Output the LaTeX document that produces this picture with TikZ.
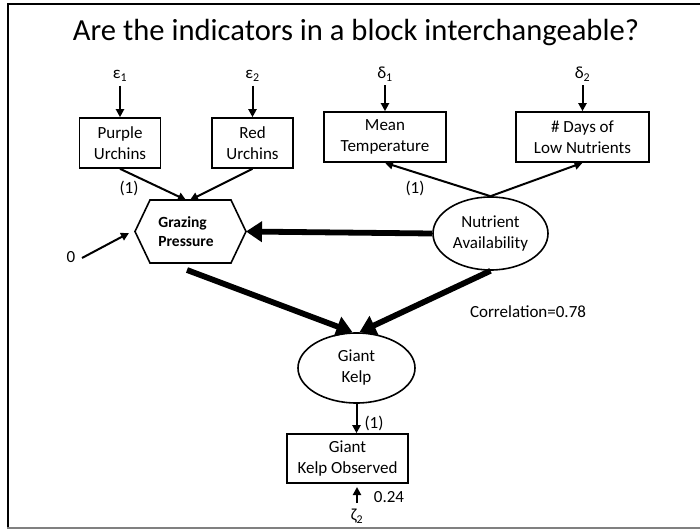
\documentclass[tikz,border=0pt]{standalone}
\usepackage{fontspec}
\setmainfont{Carlito}
\usetikzlibrary{arrows.meta,shapes.geometric,calc}
\begin{document}
\begin{tikzpicture}[x=1pt,y=-1pt,
  every node/.style={font=\fontsize{17}{21}\selectfont},
  obs/.style={draw,line width=1.6pt,align=center,inner sep=0pt},
  lat/.style={draw,ellipse,line width=1.6pt,align=center,inner sep=0pt},
  lbl/.style={inner sep=1pt},
  thin/.style={line width=2pt,-{Triangle[length=8pt,width=8pt]}},
  thick/.style={line width=5.8pt,-{Triangle[length=16pt,width=20pt]}}]
\useasboundingbox (0,0) rectangle (700,529);
% slide frame
\draw[line width=2pt] (7.5,529) -- (7.5,4.5) -- (700,4.5);
\draw[gray,line width=2pt] (7,527.5) -- (700,527.5);
% title
\node (title) at (356,33) {\fontsize{30.6}{36}\selectfont Are the indicators in a block interchangeable?};
% error terms
\node[lbl] (e1) at (120,76) {ε\textsubscript{1}};
\node[lbl] (e2) at (252.5,76) {ε\textsubscript{2}};
\node[lbl] (d1) at (385,74) {δ\textsubscript{1}};
\node[lbl] (d2) at (582.5,74) {δ\textsubscript{2}};
% indicators
\node[obs,minimum width=81pt,minimum height=50pt] (pu) at (120,143) {Purple\\Urchins};
\node[obs,minimum width=81pt,minimum height=50pt] (ru) at (252.5,143) {Red\\Urchins};
\node[obs,minimum width=122pt,minimum height=50pt] (mt) at (385,137) {Mean\\Temperature};
\node[obs,minimum width=133pt,minimum height=50pt] (dl) at (582.5,137) {\# Days of\\Low Nutrients};
% grazing pressure (hexagon drawn separately)
\node[minimum width=111pt,minimum height=63pt,inner sep=0pt,align=left,
      font=\fontsize{15.5}{19}\selectfont\bfseries] (gp) at (186,231.5) {Grazing\\Pressure};
\draw[line width=1.6pt] (135,231.5) -- (150,200) -- (231,200) -- (246,231.5)
  -- (231,263) -- (150,263) -- cycle;
\node[lat,minimum width=115pt,minimum height=73pt] (na) at (490.5,233.5) {Nutrient\\Availability};
\node[lat,minimum width=117pt,minimum height=70pt] (gk) at (356.5,368) {Giant\\Kelp};
\node[obs,minimum width=121pt,minimum height=49pt] (gko) at (347.5,458.5) {Giant\\Kelp Observed};
% free ends and labels
\node[lbl] (zero) at (71,257) {0};
\coordinate (zs) at (82,258);
\node[lbl] (z2) at (357,516) {ζ\textsubscript{2}};
\node[lbl] (v24) at (389,497) {0.24};
\node[lbl] (l1a) at (129,188) {(1)};
\node[lbl] (l1b) at (415,188) {(1)};
\node[lbl] (l1c) at (374,423) {(1)};
\node[lbl] (corr) at (528,312) {Correlation=0.78};
% connectors
\draw[thin] (e1.south) ++(0,3) -- (pu.north);
\draw[thin] (e2.south) ++(0,3) -- (ru.north);
\draw[thin] (d1.south) ++(0,3) -- (mt.north);
\draw[thin] (d2.south) ++(0,3) -- (dl.north);
\draw[thin] (pu.south) -- (186,200);
\draw[thin] (ru.south) -- (190,200);
\draw[thin] (na.north) -- (mt.south);
\draw[thin] (na.north) -- (dl.south);
\draw[thin] (zs) -- (129,233);
\draw[thick] (na.west) -- (246,231.5);
\draw[thick] (187,270) -- ($(gk.north)+(-4,0)$);
\draw[thick] (na.south) -- ($(gk.north)+(3,0)$);
\draw[thin] (gk.south) -- (gk.south |- gko.north);
\draw[thin] (357,503) -- (357,487);
\end{tikzpicture}
\end{document}
